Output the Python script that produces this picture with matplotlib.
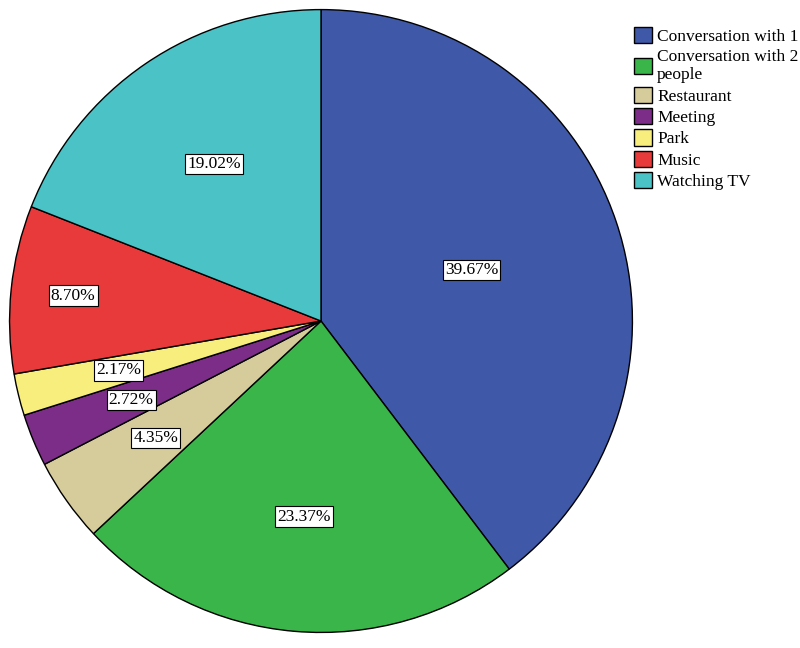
import numpy as np
import matplotlib.pyplot as plt
from matplotlib.patches import Patch

# Data
categories = ['Conversation with 1', 'Conversation with 2\npeople', 'Restaurant',
              'Meeting', 'Park', 'Music', 'Watching TV']
values = [39.67, 23.37, 4.35, 2.72, 2.17, 8.70, 19.02]
labels = ['39.67%', '23.37%', '4.35%', '2.72%', '2.17%', '8.70%', '19.02%']

colors = ['#3F58A8', '#3AB54A', '#D6CB9A', '#7B2D88', '#F7EE7E', '#E83A3A', '#4AC2C6']
label_r = [0.51, 0.63, 0.65, 0.66, 0.67, 0.80, 0.61]

plt.rcParams['font.family'] = ['Liberation Serif', 'DejaVu Serif']

fig = plt.figure(figsize=(8, 6.48), dpi=100)
ax = fig.add_axes([0.01, 0.0216, 0.7825, 0.966])

wedges, _ = ax.pie(values, colors=colors, startangle=90, counterclock=False,
                   wedgeprops=dict(edgecolor='black', linewidth=1))

# percentage labels inside white boxes
for w, lab, r in zip(wedges, labels, label_r):
    ang = np.deg2rad((w.theta1 + w.theta2) / 2)
    ax.text(r * np.cos(ang), r * np.sin(ang), lab, ha='center', va='center',
            fontsize=12.5,
            bbox=dict(boxstyle='square,pad=0.12', facecolor='white',
                      edgecolor='black', linewidth=0.8))
ax.set_xlim(-1.005, 1.005)
ax.set_ylim(-1.005, 1.005)
ax.set_aspect('equal')
ax.axis('off')

handles = [Patch(facecolor=c, edgecolor='black', linewidth=1) for c in colors]
fig.legend(handles, categories, loc='upper left', bbox_to_anchor=(0.792, 0.958),
           frameon=False, fontsize=12.5, handlelength=1.05, handleheight=1.05,
           handletextpad=0.3, labelspacing=0.2, borderpad=0, borderaxespad=0)

fig.savefig('out.png', dpi=100)
